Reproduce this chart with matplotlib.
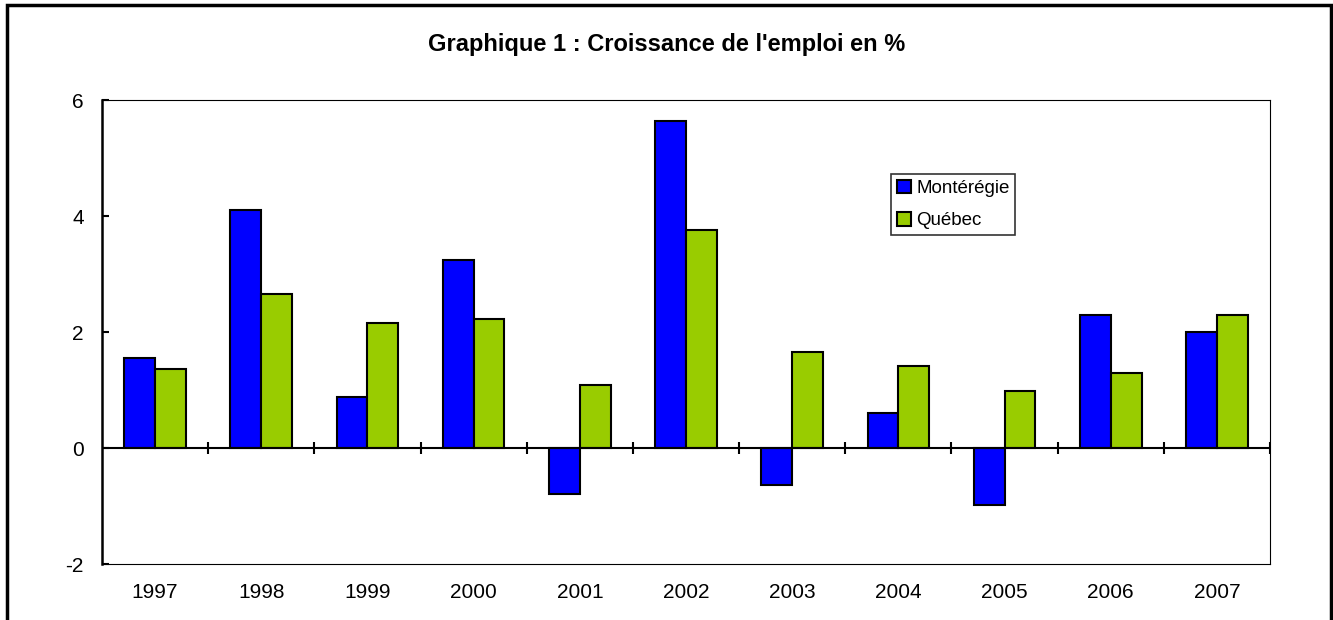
import numpy as np
import matplotlib.pyplot as plt
from matplotlib.patches import Rectangle

plt.rcParams['font.family'] = ['Liberation Sans', 'DejaVu Sans']
plt.rcParams['axes.unicode_minus'] = False

# -----------------------------------------------------------------------------

years = ['1997', '1998', '1999', '2000', '2001', '2002',
         '2003', '2004', '2005', '2006', '2007']
monteregie = [1.55, 4.10, 0.88, 3.25, -0.80, 5.63, -0.64, 0.60, -0.99, 2.30, 2.00]
quebec = [1.36, 2.66, 2.16, 2.23, 1.09, 3.76, 1.65, 1.42, 0.99, 1.30, 2.30]

title = "Graphique 1 : Croissance de l'emploi en %"

# -----------------------------------------------------------------------------

fig = plt.figure(figsize=(13.33, 6.2), dpi=100)
ax = fig.add_axes([102 / 1333, 1 - 564 / 620, (1270 - 102) / 1333, (564 - 100) / 620])

x = np.arange(len(years))
w = 0.29
ax.bar(x - w / 2, monteregie, w, color='#0000FF', edgecolor='black',
       linewidth=1.5, label='Montérégie', zorder=3)
ax.bar(x + w / 2, quebec, w, color='#99CC00', edgecolor='black',
       linewidth=1.5, label='Québec', zorder=3)

ax.set_xlim(-0.5, len(years) - 0.5)
ax.set_ylim(-2, 6)

# zero line with tick marks between categories
ax.axhline(0, color='black', linewidth=1.5, zorder=4)
ax.vlines(np.arange(len(years)) + 0.5, -0.1, 0.1, color='black',
          linewidth=1.5, zorder=4)

ax.set_xticks(x)
ax.set_xticklabels(years)
ax.tick_params(axis='x', length=0, pad=14, labelsize=15)
ax.set_yticks([-2, 0, 2, 4, 6])
ax.tick_params(axis='y', direction='in', length=5, width=1.5, pad=13,
               labelsize=15)

for s in ['top', 'right', 'bottom']:
    ax.spines[s].set_linewidth(0.8)
ax.spines['left'].set_linewidth(1.8)

fig.text(0.5, 1 - 45 / 620, title, fontsize=17, fontweight='bold',
         ha='center', va='center')

leg = ax.legend(loc='upper left', bbox_to_anchor=(891 / 1333, 1 - 174 / 620),
                bbox_transform=fig.transFigure,
                fontsize=13.5, frameon=True, fancybox=False, edgecolor='black',
                handlelength=0.75, handleheight=0.75, handletextpad=0.3,
                borderpad=0.3, labelspacing=0.8, borderaxespad=0)
leg.get_frame().set_linewidth(1.2)

# outer frame of the figure
fig.patches.append(Rectangle((7 / 1333, -0.05), 1 - 9 / 1333, 1.05 - 5 / 620,
                             transform=fig.transFigure, fill=False,
                             edgecolor='black', linewidth=2.5))

fig.savefig('out.png', dpi=100)
